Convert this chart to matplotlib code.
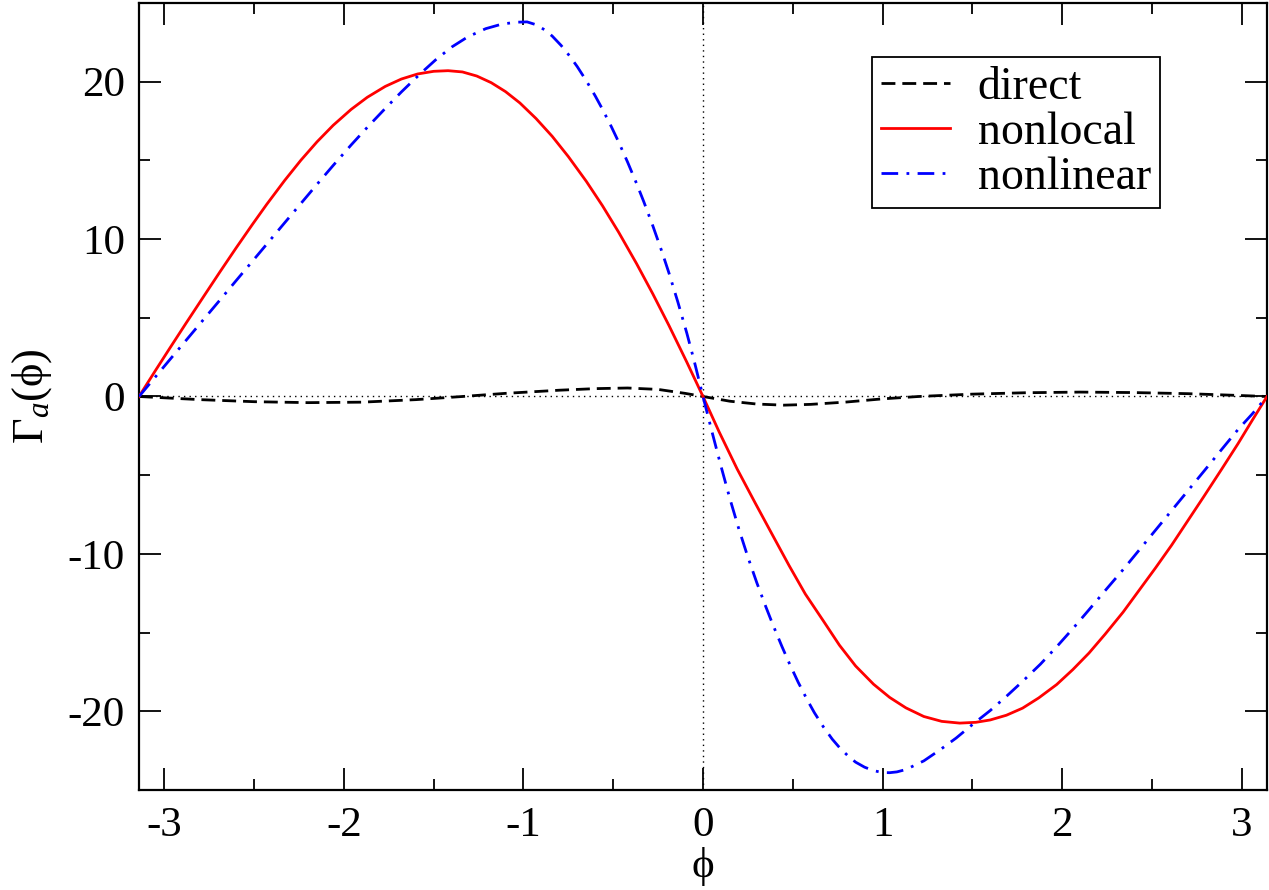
import numpy as np
import matplotlib
matplotlib.use("Agg")
import matplotlib.pyplot as plt
from matplotlib.ticker import MultipleLocator

plt.rcParams['font.family'] = ['Liberation Serif', 'DejaVu Serif']
plt.rcParams['mathtext.fontset'] = 'custom'
plt.rcParams['mathtext.rm'] = 'Liberation Serif'
plt.rcParams['mathtext.it'] = 'Liberation Serif:italic'

PI = 3.1416

# direct (black dashed)
x_direct = [-PI, -2.8, -2.5, -2.2, -1.9, -1.6, -1.34, -1.1, -0.8, -0.6, -0.42, -0.25, -0.1, 0.0,
            0.15, 0.3, 0.45, 0.6, 0.8, 1.0, 1.2, 1.5, 1.8, 2.1, 2.4, 2.7, 2.95, PI]
y_direct = [0, -0.2, -0.33, -0.39, -0.36, -0.2, 0.0, 0.2, 0.4, 0.5, 0.54, 0.45, 0.2, 0.0,
            -0.3, -0.48, -0.55, -0.5, -0.35, -0.15, 0.0, 0.15, 0.24, 0.28, 0.25, 0.18, 0.08, 0]

# nonlocal (red solid)
x_nonlocal = [-PI, -3.05, -2.97, -2.88, -2.78, -2.69, -2.60, -2.51, -2.43, -2.33, -2.24, -2.15,
              -2.06, -1.96, -1.87, -1.77, -1.68, -1.59, -1.50, -1.42, -1.34, -1.26, -1.18,
              -1.10, -1.02, -0.93, -0.84, -0.75, -0.65, -0.56, -0.47, -0.37, -0.28, -0.19,
              -0.09, 0.0,
              0.09, 0.19, 0.29, 0.38, 0.48, 0.57, 0.67, 0.76, 0.85, 0.95, 1.04, 1.13, 1.23,
              1.33, 1.43, 1.52, 1.60, 1.69, 1.78, 1.87, 1.97, 2.06, 2.15, 2.24, 2.34, 2.43,
              2.52, 2.61, 2.70, 2.79, 2.89, 2.98, 3.06, PI]
y_nonlocal = [0, 1.65, 3.07, 4.65, 6.38, 7.93, 9.45, 10.93, 12.21, 13.73, 15.01, 16.18,
              17.23, 18.24, 19.01, 19.70, 20.17, 20.49, 20.66, 20.7, 20.62, 20.36, 19.94,
              19.37, 18.65, 17.66, 16.53, 15.24, 13.67, 12.12, 10.44, 8.44, 6.53, 4.52,
              2.18, 0,
              -2.25, -4.6, -6.75, -8.65, -10.75, -12.55, -14.25, -15.8, -17.12, -18.28, -19.12, -19.78, -20.33,
              -20.64, -20.75, -20.7, -20.55, -20.25, -19.8, -19.15, -18.3, -17.35, -16.3, -15.1, -13.7, -12.3,
              -10.9, -9.45, -7.9, -6.35, -4.6, -3.0, -1.5, 0]

# nonlinear (blue dash-dot)
x_nonlinear = [-PI, -3.05, -2.97, -2.88, -2.78, -2.69, -2.60, -2.51, -2.43, -2.33, -2.24, -2.15,
               -2.06, -1.96, -1.87, -1.77, -1.68, -1.58, -1.49, -1.40, -1.31, -1.21, -1.12,
               -1.04, -0.98, -0.93, -0.88, -0.84, -0.79, -0.74, -0.70, -0.65, -0.60, -0.56,
               -0.51, -0.47, -0.42, -0.37, -0.33, -0.28, -0.23, -0.19, -0.14, -0.09, -0.05, 0.0,
               0.05, 0.10, 0.15, 0.20, 0.25, 0.30, 0.35, 0.39, 0.44, 0.48, 0.53, 0.58, 0.62,
               0.67, 0.72, 0.76, 0.81, 0.85, 0.90, 0.95, 1.00, 1.04, 1.08, 1.13, 1.23, 1.32,
               1.41, 1.50, 1.60, 1.69, 1.78, 1.88, 1.97, 2.06, 2.15, 2.25, 2.34, 2.43, 2.52,
               2.61, 2.70, 2.79, 2.89, 2.98, 3.06, PI]
y_nonlinear = [0, 1.25, 2.34, 3.56, 4.92, 6.14, 7.37, 8.59, 9.68, 11.04, 12.26, 13.48,
               14.68, 15.98, 17.1, 18.3, 19.35, 20.45, 21.38, 22.2, 22.85, 23.37, 23.66,
               23.78, 23.8, 23.62, 23.28, 22.9, 22.3, 21.59, 20.95, 20.06, 19.09, 18.25,
               17.13, 16.17, 14.89, 13.53, 12.38, 10.86, 9.24, 7.86, 6.0, 4.02, 2.3, 0,
               -2.24, -4.42, -6.5, -8.43, -10.2, -11.84, -13.36, -14.52, -15.89, -16.93, -18.15, -19.26, -20.08,
               -20.98, -21.77, -22.3, -22.86, -23.23, -23.55, -23.77, -23.89, -23.9, -23.85, -23.7, -23.15, -22.45,
               -21.7, -20.85, -19.95, -19.05, -18.1, -17.0, -15.9, -14.75, -13.55, -12.2, -11.0, -9.75, -8.5,
               -7.25, -6.0, -4.75, -3.35, -2.1, -1.1, 0]

labels = ['direct', 'nonlocal', 'nonlinear']
x_ticks = [-3, -2, -1, 0, 1, 2, 3]
y_ticks = [-20, -10, 0, 10, 20]

fig = plt.figure(figsize=(12.69, 8.90), dpi=100)
ax = fig.add_axes([139/1269, 1 - 790/890, (1267-139)/1269, (790-3)/890])

ax.axhline(0, color='black', lw=1.0, ls=(0, (1, 3)), zorder=1)
ax.axvline(0, color='black', lw=1.0, ls=(0, (1, 3)), zorder=1)

ax.plot(x_direct, y_direct, color='black', lw=2.0, ls=(0, (5, 2.5)), label=labels[0], zorder=3)
ax.plot(x_nonlocal, y_nonlocal, color='#ff0000', lw=2.0, ls='-', label=labels[1], zorder=3)
ax.plot(x_nonlinear, y_nonlinear, color='#0000ff', lw=2.0, ls=(0, (6, 3, 1, 3)), label=labels[2], zorder=3)

ax.set_xlim(-PI, PI)
ax.set_ylim(-25, 25)
ax.set_xticks(x_ticks)
ax.set_yticks(y_ticks)
ax.set_xticklabels([str(t) for t in x_ticks])
ax.set_yticklabels([str(t) for t in y_ticks])
ax.xaxis.set_minor_locator(MultipleLocator(0.5))
ax.yaxis.set_minor_locator(MultipleLocator(5))
ax.tick_params(which='both', direction='in', top=True, right=True, width=1.3, labelsize=31)
ax.tick_params(which='major', length=16)
ax.tick_params(axis='x', which='major', pad=12)
ax.tick_params(axis='y', which='major', pad=10)
ax.tick_params(which='minor', length=8)
for s in ax.spines.values():
    s.set_linewidth(1.6)

ax.set_xlabel('ϕ', fontsize=31, labelpad=1)
ax.set_ylabel(r'$\Gamma_{a}$(ϕ)', fontsize=32, labelpad=10)

leg = ax.legend(loc='upper left', bbox_to_anchor=(0.650, 0.931), fontsize=33,
                frameon=True, fancybox=False, edgecolor='black', framealpha=1,
                handlelength=1.5, handletextpad=0.6, borderpad=0.2, labelspacing=0.05,
                borderaxespad=0)
leg.get_frame().set_linewidth(1.3)

fig.savefig('out.png', dpi=100)
